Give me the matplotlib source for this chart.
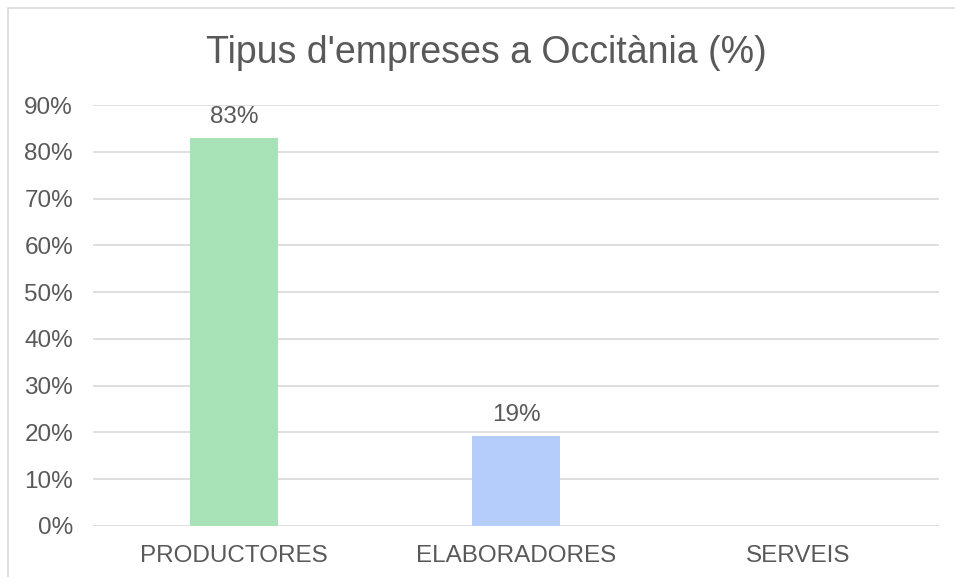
import matplotlib
matplotlib.use("Agg")
import matplotlib.pyplot as plt
from matplotlib.patches import Rectangle

# Data
categories = ["PRODUCTORES", "ELABORADORES", "SERVEIS"]
values = [82.9, 19.2, 0]
bar_colors = ["#A8E3B7", "#B4CDFA", "#F4B183"]
yticks = [0, 10, 20, 30, 40, 50, 60, 70, 80, 90]
title = "Tipus d'empreses a Occitània (%)"

text_color = "#595959"
grid_color = "#D9D9D9"

plt.rcParams['font.family'] = ['Liberation Sans', 'DejaVu Sans']

fig = plt.figure(figsize=(9.55, 5.77), dpi=100)
ax = fig.add_axes([93 / 955, 1 - 526 / 577, (939 - 93) / 955, (526 - 105) / 577])

x = list(range(len(categories)))
bars = ax.bar(x, values, width=0.31, color=bar_colors, zorder=3)

for rect, v in zip(bars, values):
    if v > 0:
        ax.text(rect.get_x() + rect.get_width() / 2, v + 2.2, f"{round(v)}%",
                ha='center', va='bottom', fontsize=17.5, color=text_color)

ax.set_xlim(-0.5, len(categories) - 0.5)
ax.set_ylim(0, 90)
ax.set_yticks(yticks)
ax.set_yticklabels([f"{t}%" for t in yticks])
ax.set_xticks(x)
ax.set_xticklabels(categories)
ax.tick_params(axis='both', length=0, labelsize=17.5, colors=text_color)
ax.tick_params(axis='y', pad=14.4)
ax.tick_params(axis='x', pad=13.5)

ax.grid(axis='y', color=grid_color, linewidth=1.2, zorder=0)
for s in ax.spines.values():
    s.set_visible(False)

fig.text(486 / 955, 1 - 53 / 577, title, ha='center', va='center',
         fontsize=27, color=text_color)

# chart border
fig.patches.append(Rectangle((8 / 955, -0.1), 1.2, 1.1 - 8 / 577,
                             transform=fig.transFigure, fill=False,
                             edgecolor=grid_color, linewidth=1.2))

fig.savefig("out.png", dpi=100)
